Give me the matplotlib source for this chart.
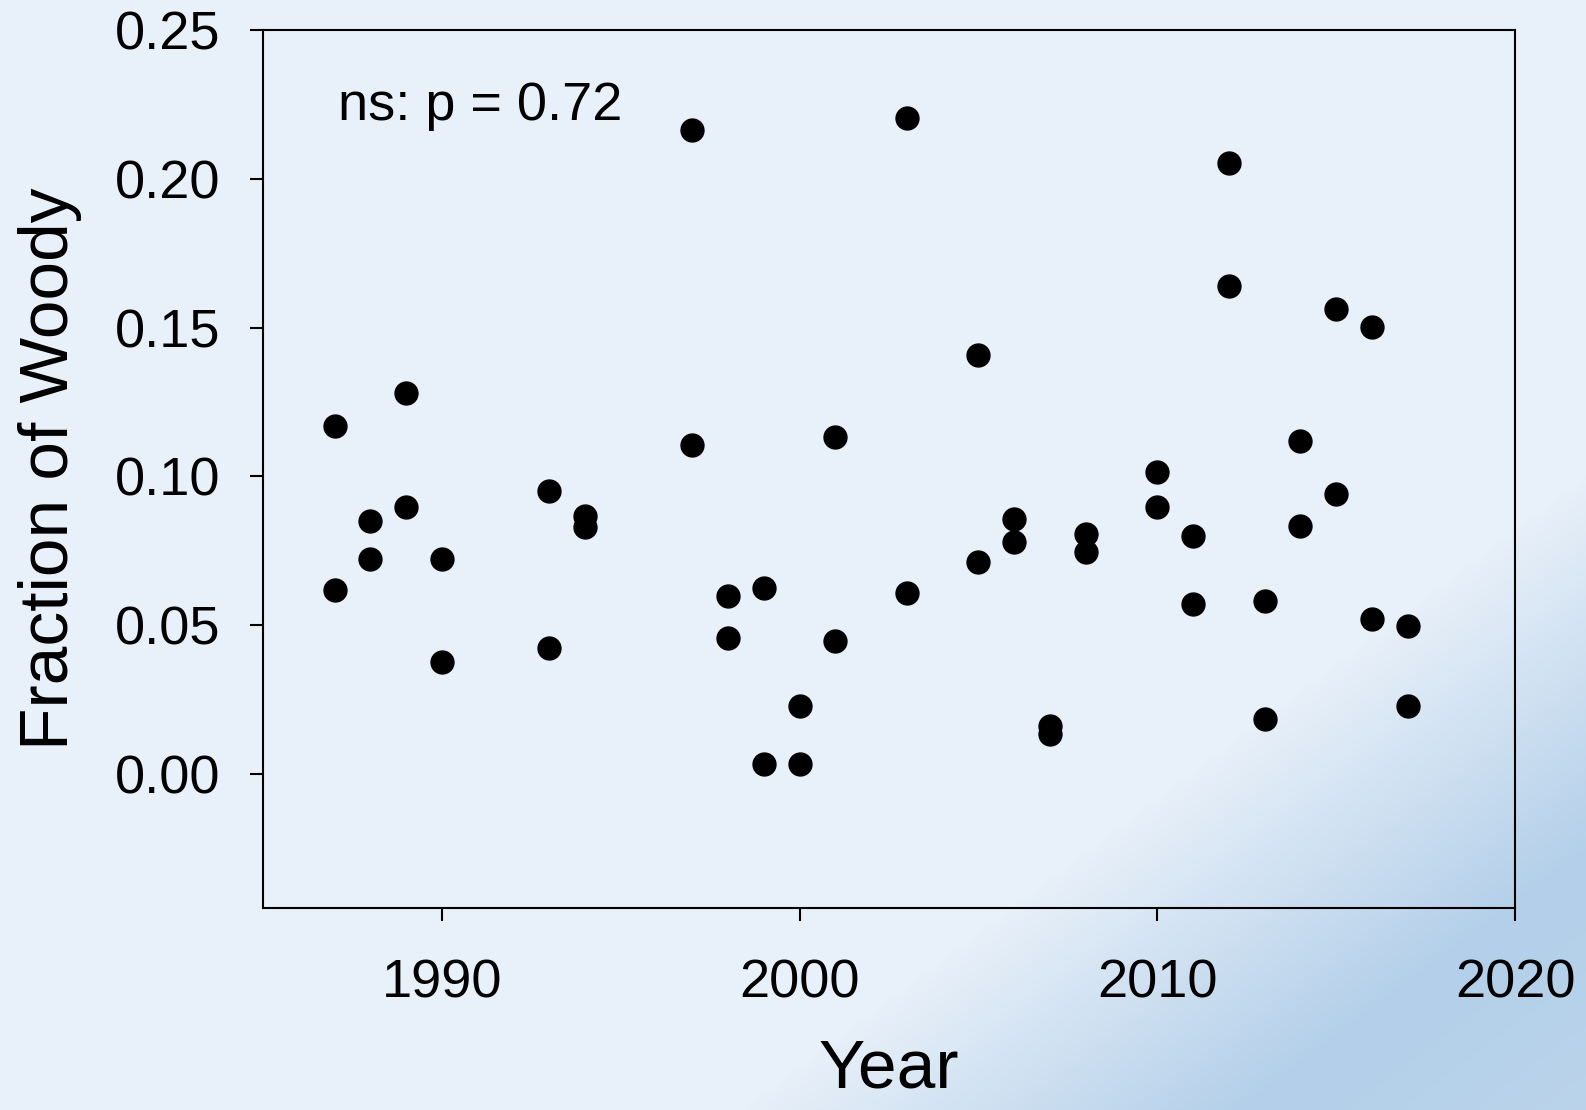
import numpy as np
import matplotlib
matplotlib.use('Agg')
import matplotlib.pyplot as plt
from matplotlib.colors import LinearSegmentedColormap

plt.rcParams['font.family'] = ['Liberation Sans', 'DejaVu Sans']

# ==================== data ====================
years = [1987, 1987, 1988, 1988, 1989, 1989, 1990, 1990,
         1993, 1993, 1994, 1994, 1997, 1997, 1998, 1998,
         1999, 1999, 2000, 2000, 2001, 2001, 2003, 2003,
         2005, 2005, 2006, 2006, 2007, 2007, 2008, 2008,
         2010, 2010, 2011, 2011, 2012, 2012, 2013, 2013,
         2014, 2014, 2015, 2015, 2016, 2016, 2017, 2017]
woody = [0.117, 0.0619, 0.085, 0.0721, 0.128, 0.0898, 0.0724, 0.0378,
         0.0952, 0.0425, 0.0867, 0.083, 0.2163, 0.1105, 0.0599, 0.0456,
         0.0626, 0.0034, 0.0228, 0.0034, 0.1133, 0.0446, 0.2204, 0.0609,
         0.1408, 0.0714, 0.0857, 0.0779, 0.016, 0.0133, 0.0806, 0.0745,
         0.1014, 0.0898, 0.0799, 0.0571, 0.2054, 0.1639, 0.0582, 0.0184,
         0.1119, 0.0833, 0.1561, 0.0942, 0.1503, 0.052, 0.0497, 0.0228]

x_ticks = [1990, 2000, 2010, 2020]
y_ticks = [0.00, 0.05, 0.10, 0.15, 0.20, 0.25]
note = 'ns: p = 0.72'

W, H = 1586, 1110
fig = plt.figure(figsize=(W / 100, H / 100), dpi=100)

# background: light blue, diagonal gradient towards bottom-right corner
bg = fig.add_axes([0, 0, 1, 1], zorder=-10)
px, py = np.meshgrid(np.arange(W), np.arange(H))
d = 0.6 * px + 0.8 * py
t = np.clip((d - 1330) / 310, 0, 1)
t = np.where(d > 1640, np.clip(1 - (d - 1640) / 1400, 0, 1), t)
cmap = LinearSegmentedColormap.from_list('bgblue', ['#e8f0f9', '#b3cfe9'])
bg.imshow(t, cmap=cmap, vmin=0, vmax=1, aspect='auto', interpolation='bilinear')
bg.axis('off')

# main axes
ax = fig.add_axes([263 / W, 1 - 908 / H, (1515 - 263) / W, (908 - 30) / H])
ax.patch.set_alpha(0)

ax.plot(years, woody, 'o', color='black', markersize=16.5, linestyle='none')

ax.set_xlim(1985, 2020)
ax.set_ylim(-0.045, 0.25)
ax.set_xticks(x_ticks)
ax.set_yticks(y_ticks)
ax.set_yticklabels([f'{v:.2f}' for v in y_ticks])

ax.tick_params(axis='both', direction='out', length=9.5, width=1.5,
               labelsize=39, color='black')
ax.tick_params(axis='x', pad=27)
ax.tick_params(axis='y', pad=21)
for sp in ax.spines.values():
    sp.set_linewidth(1.5)

ax.set_xlabel('Year', fontsize=50, labelpad=21)
ax.set_ylabel('Fraction of Woody', fontsize=50, labelpad=24)

ax.text(0.060, 0.913, note, transform=ax.transAxes, fontsize=39,
        ha='left', va='center')

fig.savefig('out.png', dpi=100)
